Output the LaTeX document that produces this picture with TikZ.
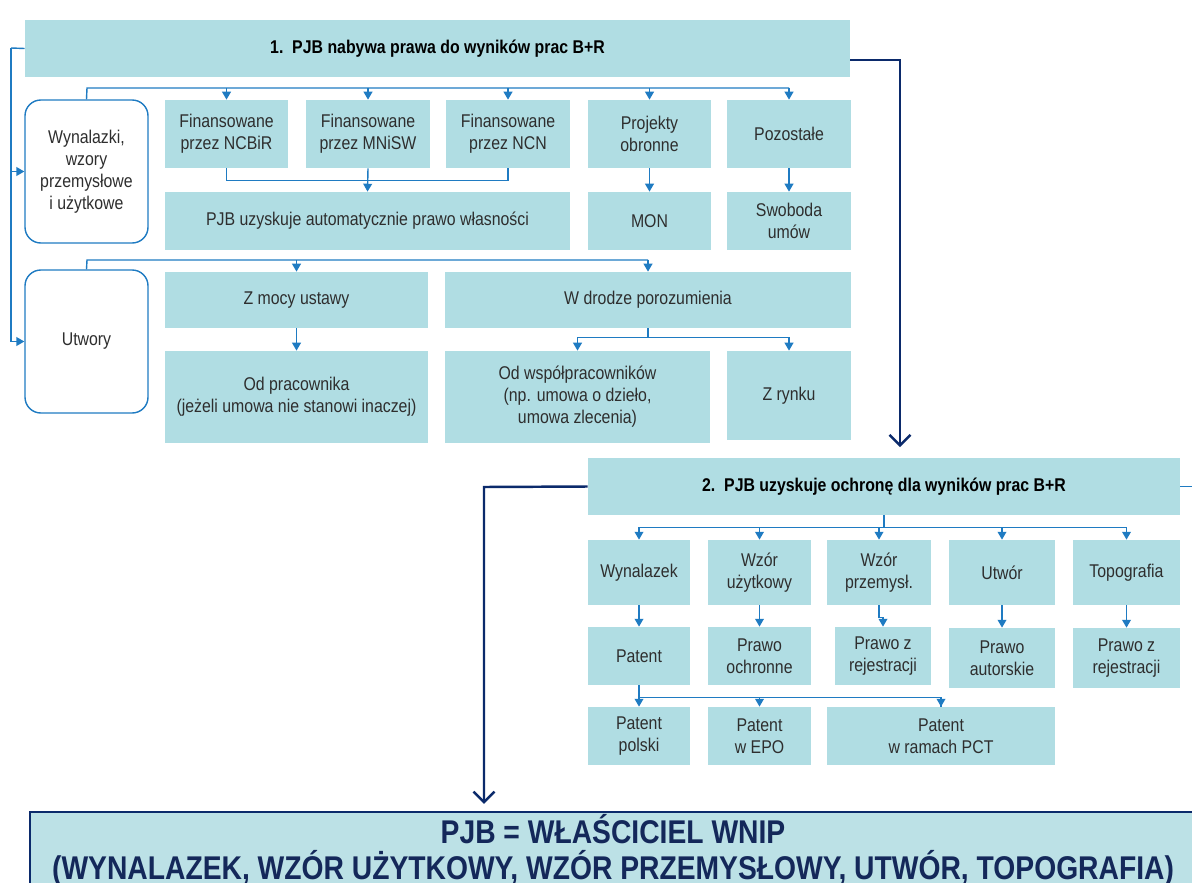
\documentclass[tikz,border=0pt]{standalone}
\usepackage{fontspec}
\setmainfont{Liberation Sans}[FakeStretch=0.86]
\usepackage{tikz}
\usetikzlibrary{positioning, arrows.meta, calc}

\definecolor{cellfill}{HTML}{B0DDE3}
\definecolor{lineblue}{HTML}{1F7BC2}
\definecolor{flownavy}{HTML}{0B2A6B}
\definecolor{textgrey}{HTML}{2E2E2E}
\definecolor{endfill}{HTML}{BCE1E6}
\definecolor{endtext}{HTML}{14285A}

\tikzset{
    cell/.style 2 args={fill=cellfill, text=textgrey, align=center, inner sep=1pt,
        minimum width=#1*0.02cm, minimum height=#2*0.02cm},
    roundcell/.style 2 args={draw=lineblue, line width=0.8pt, fill=white, text=textgrey,
        align=center, rounded corners=9pt, inner sep=1pt,
        minimum width=#1*0.02cm, minimum height=#2*0.02cm},
    headcell/.style={font=\fontsize{10.5}{12.5}\selectfont\bfseries, text=black},
    feed/.style={draw=lineblue, line width=0.8pt},
    feedarrow/.style={feed, -{Triangle[width=5pt,length=4.5pt]}},
    mainflow/.style={draw=flownavy, line width=1.4pt, -{Straight Barb[length=6pt,width=12pt]}}
}

\begin{document}
\begin{tikzpicture}[x=0.02cm, y=-0.02cm, font=\fontsize{10.5}{12.5}\selectfont]
    \useasboundingbox (0,0) rectangle (1192,882);

    % Part 1: acquiring rights
    \node[cell={825}{57}, headcell] (title1) at (437.5,48.5) {1.\ \ PJB nabywa prawa do wyników prac B+R};

    \node[roundcell={123}{143}] (wyn) at (86.5,171.5) {Wynalazki,\\wzory\\przemysłowe\\i użytkowe};
    \node[cell={123}{68}] (ncbir) at (226.5,134) {Finansowane\\przez NCBiR};
    \node[cell={124}{68}] (mnisw) at (368,134) {Finansowane\\przez MNiSW};
    \node[cell={124}{68}] (ncn) at (508,134) {Finansowane\\przez NCN};
    \node[cell={123}{68}] (obron) at (649.5,134) {Projekty\\obronne};
    \node[cell={124}{68}] (pozost) at (789,134) {Pozostałe};

    \node[cell={405}{58}] (auto) at (367.5,221) {PJB uzyskuje automatycznie prawo własności};
    \node[cell={123}{58}] (mon) at (649.5,221) {MON};
    \node[cell={124}{58}] (swob) at (789,221) {Swoboda\\umów};

    \node[roundcell={123}{143}] (utw) at (86.5,341.5) {Utwory};
    \node[cell={263}{56}] (zmocy) at (296.5,300) {Z mocy ustawy};
    \node[cell={406}{56}] (wdrodze) at (648,300) {W drodze porozumienia};
    \node[cell={263}{92}] (odprac) at (296.5,397) {Od pracownika\\(jeżeli umowa nie stanowi inaczej)};
    \node[cell={265}{92}] (odwsp) at (577.5,397) {Od współpracowników\\(np. umowa o dzieło,\\umowa zlecenia)};
    \node[cell={124}{89}] (zrynku) at (789,395.5) {Z rynku};

    % Part 2: protection
    \node[cell={592}{57}, headcell] (title2) at (884,486.5) {2.\ \ PJB uzyskuje ochronę dla wyników prac B+R};

    \node[cell={102}{65}] (wynal) at (639,572.5) {Wynalazek};
    \node[cell={103}{65}] (wzoru) at (759.5,572.5) {Wzór\\użytkowy};
    \node[cell={104}{65}] (wzorp) at (879,572.5) {Wzór\\przemysł.};
    \node[cell={106}{65}] (utwor) at (1002,572.5) {Utwór};
    \node[cell={107}{65}] (topo) at (1126.5,572.5) {Topografia};

    \node[cell={102}{58}] (patent) at (639,656) {Patent};
    \node[cell={103}{58}] (prochr) at (759.5,656) {Prawo\\ochronne};
    \node[cell={96}{58}] (prrej) at (883,656) {Prawo z\\rejestracji};
    \node[cell={106}{60}] (praut) at (1002,658) {Prawo\\autorskie};
    \node[cell={107}{60}] (prtopo) at (1126.5,658) {Prawo z\\rejestracji};

    \node[cell={102}{58}] (ppol) at (639,736) {Patent\\polski};
    \node[cell={103}{58}] (pepo) at (759.5,736) {Patent\\w EPO};
    \node[cell={228}{58}] (ppct) at (941,736) {Patent\\w ramach PCT};

    % Result
    \node[fill=endfill, draw=flownavy, line width=1.2pt, text=endtext, align=center,
        font=\fontsize{18.7}{20.4}\selectfont\bfseries, inner sep=0pt,
        minimum width=1166*0.02cm, minimum height=76*0.02cm] (wnip) at (613,850)
        {PJB = WŁAŚCICIEL WNIP\\(WYNALAZEK, WZÓR UŻYTKOWY, WZÓR PRZEMYSŁOWY, UTWÓR, TOPOGRAFIA)};

    % Left feed from part 1
    \coordinate (lbus) at (11,48);
    \draw[feed] (title1.west) -- (lbus);
    \draw[feedarrow] (lbus) |- (utw.west);
    \draw[feedarrow] (lbus |- wyn.west) -- (wyn.west);

    % Inventions branch
    \coordinate (bus1) at (87,88);
    \draw[feed] (wyn.north) -- (bus1) -- (pozost.north |- bus1);
    \foreach \n in {ncbir, mnisw, ncn, obron, pozost}
        \draw[feedarrow] (\n.north |- bus1) -- (\n.north);
    \draw[feed] (ncbir.south) -- ++(0,12) -| (ncn.south);
    \draw[feedarrow] (mnisw.south) -- (auto.north);
    \draw[feedarrow] (obron.south) -- (mon.north);
    \draw[feedarrow] (pozost.south) -- (swob.north);

    % Works branch
    \coordinate (bus2) at (87,260);
    \draw[feed] (utw.north) -- (bus2) -- (wdrodze.north |- bus2);
    \draw[feedarrow] (zmocy.north |- bus2) -- (zmocy.north);
    \draw[feedarrow] (wdrodze.north |- bus2) -- (wdrodze.north);
    \draw[feedarrow] (zmocy.south) -- (odprac.north);
    \draw[feed] (wdrodze.south) -- ++(0,9) coordinate (bus3);
    \draw[feedarrow] (bus3) -| (odwsp.north);
    \draw[feedarrow] (bus3) -| (zrynku.north);

    % Protection branch
    \draw[feed] (title2.south) -- ++(0,12) coordinate (bus4);
    \draw[feed] (wynal.north |- bus4) -- (topo.north |- bus4);
    \foreach \n in {wynal, wzoru, wzorp, utwor, topo}
        \draw[feedarrow] (\n.north |- bus4) -- (\n.north);
    \draw[feedarrow] (wynal.south) -- (patent.north);
    \draw[feedarrow] (wzoru.south) -- (prochr.north);
    \draw[feedarrow] (wzorp.south) -- ++(0,12) -| (prrej.north);
    \draw[feedarrow] (utwor.south) -- (praut.north);
    \draw[feedarrow] (topo.south) -- (prtopo.north);
    \draw[feed] (patent.south) -- ++(0,12) coordinate (bus5) -| (ppct.north);
    \foreach \n in {ppol, pepo, ppct}
        \draw[feedarrow] (\n.north |- bus5) -- (\n.north);
    \draw[feed] (title2.east) -- ++(14,0);

    % Main flow
    \coordinate (bend1) at (900,60);
    \draw[mainflow, shorten >=6pt] (title1.east |- bend1) -- (bend1) -- (bend1 |- title2.north);
    \coordinate (bend2) at (484,487);
    \draw[mainflow, shorten >=4pt] (title2.west) -- (bend2) -- (bend2 |- wnip.north);
\end{tikzpicture}
\end{document}
